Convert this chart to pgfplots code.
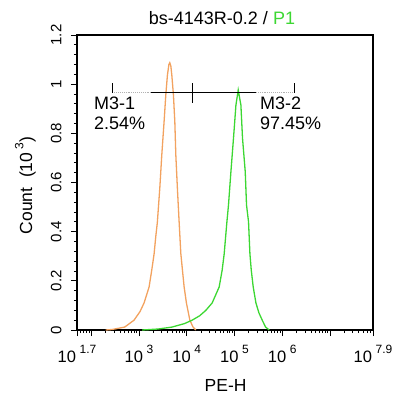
\documentclass[border=0pt]{standalone}
\usepackage{pgfplots}
\pgfplotsset{compat=1.18}
\usepackage{fontspec}
\setmainfont{Liberation Sans}
\definecolor{porange}{RGB}{242,162,95}
\definecolor{pgreen}{RGB}{60,215,50}
\newcommand{\tl}[1]{10\hspace{0.22em}\raisebox{0.55em}{\fontsize{12}{13}\selectfont #1}}
\begin{document}
\begin{tikzpicture}
\useasboundingbox (-77pt,-75pt) rectangle (323pt,330pt);
\begin{axis}[
  at={(0pt,0pt)}, anchor=south west,
  scale only axis, width=296pt, height=295pt,
  xmin=1.7, xmax=7.9, ymin=0, ymax=1.2,
  axis line style={line width=1.1pt},
  tick align=outside, xtick pos=bottom, ytick pos=left,
  major tick length=6pt, minor tick length=3pt,
  every tick/.style={black, line width=0.9pt},
  xtick={1.7,2,3,4,5,6,7,7.9},
  xticklabels={\tl{1.7},{},\tl{3},\tl{4},\tl{5},\tl{6},{},\tl{7.9}},
  minor xtick={1.778,1.845,1.903,1.954,
    2.301,2.477,2.602,2.699,2.778,2.845,2.903,2.954,
    3.301,3.477,3.602,3.699,3.778,3.845,3.903,3.954,
    4.301,4.477,4.602,4.699,4.778,4.845,4.903,4.954,
    5.301,5.477,5.602,5.699,5.778,5.845,5.903,5.954,
    6.301,6.477,6.602,6.699,6.778,6.845,6.903,6.954,
    7.301,7.477,7.602,7.699,7.778,7.845},
  ytick={0,0.2,0.4,0.6,0.8,1,1.2},
  yticklabels={0,0.2,0.4,0.6,0.8,1,1.2},
  minor y tick num=4,
  xticklabel shift=6pt,
  yticklabel shift=6pt,
  xticklabel style={font=\fontsize{16.5}{17}\selectfont},
  yticklabel style={rotate=90, anchor=south, font=\fontsize{15}{16}\selectfont},
  xlabel={PE-H},
  ylabel={Count\ \ (10\hspace{0.2em}\raisebox{0.5em}{\fontsize{12}{13}\selectfont 3})},
  xlabel style={at={(axis description cs:0.502,-0.21)}, anchor=base, font=\fontsize{17.5}{18}\selectfont},
  ylabel style={at={(axis description cs:-0.152,0.49)}, rotate=0, anchor=base, font=\fontsize{17.5}{18}\selectfont},
]
% orange control histogram
\addplot[porange, line width=1.3pt] coordinates {
(2.30,0) (2.434,0.002) (2.70,0.012) (2.895,0.04) (3.02,0.075) (3.105,0.11) (3.21,0.175)
(3.266,0.244) (3.315,0.31) (3.35,0.38) (3.384,0.44) (3.434,0.576)
(3.476,0.712) (3.524,0.847) (3.56,0.956) (3.594,1.037) (3.625,1.08) (3.644,1.087) (3.665,1.075)
(3.686,1.037) (3.72,0.956) (3.749,0.847) (3.77,0.712) (3.803,0.576)
(3.839,0.44) (3.875,0.31) (3.944,0.175) (3.992,0.11) (4.064,0.04) (4.13,0.012) (4.189,0)
};
% green sample histogram
\addplot[pgreen, line width=1.3pt] coordinates {
(3.063,0) (3.40,0.004) (3.692,0.012) (3.95,0.026) (4.112,0.04) (4.27,0.058) (4.399,0.08)
(4.531,0.11) (4.678,0.175) (4.741,0.244) (4.783,0.31) (4.84,0.44)
(4.873,0.508) (4.924,0.644) (4.978,0.78) (5.029,0.915) (5.077,0.976)
(5.133,0.915) (5.167,0.78) (5.224,0.644) (5.251,0.508) (5.293,0.44)
(5.322,0.31) (5.35,0.244) (5.391,0.175) (5.448,0.11) (5.51,0.07) (5.58,0.04) (5.65,0.012) (5.727,0)
};
% M3 marker bars
\draw[gray!60, densely dotted, line width=0.9pt] (axis cs:2.44,0.965) -- (axis cs:3.245,0.965);
\draw[black, line width=1.1pt] (axis cs:3.245,0.965) -- (axis cs:5.448,0.965);
\draw[gray!60, densely dotted, line width=0.9pt] (axis cs:5.448,0.965) -- (axis cs:6.252,0.965);
\draw[black, line width=0.9pt] (axis cs:2.44,0.965) -- (axis cs:2.44,1.005);
\draw[black, line width=0.9pt] (axis cs:6.252,0.965) -- (axis cs:6.252,1.005);
\draw[black, line width=1.1pt] (axis cs:4.118,0.925) -- (axis cs:4.118,1.005);
\node[anchor=base west, inner sep=0pt, font=\fontsize{18}{19}\selectfont] at (axis cs:2.056,0.895) {M3-1};
\node[anchor=base west, inner sep=0pt, font=\fontsize{18}{19}\selectfont] at (axis cs:2.056,0.814) {2.54\%};
\node[anchor=base west, inner sep=0pt, font=\fontsize{18}{19}\selectfont] at (axis cs:5.532,0.895) {M3-2};
\node[anchor=base west, inner sep=0pt, font=\fontsize{18}{19}\selectfont] at (axis cs:5.532,0.814) {97.45\%};
\end{axis}
\node[anchor=base, inner sep=0pt, font=\fontsize{18}{19}\selectfont] at (145pt,305pt) {bs-4143R-0.2 / \textcolor{pgreen}{P1}};
\end{tikzpicture}
\end{document}
